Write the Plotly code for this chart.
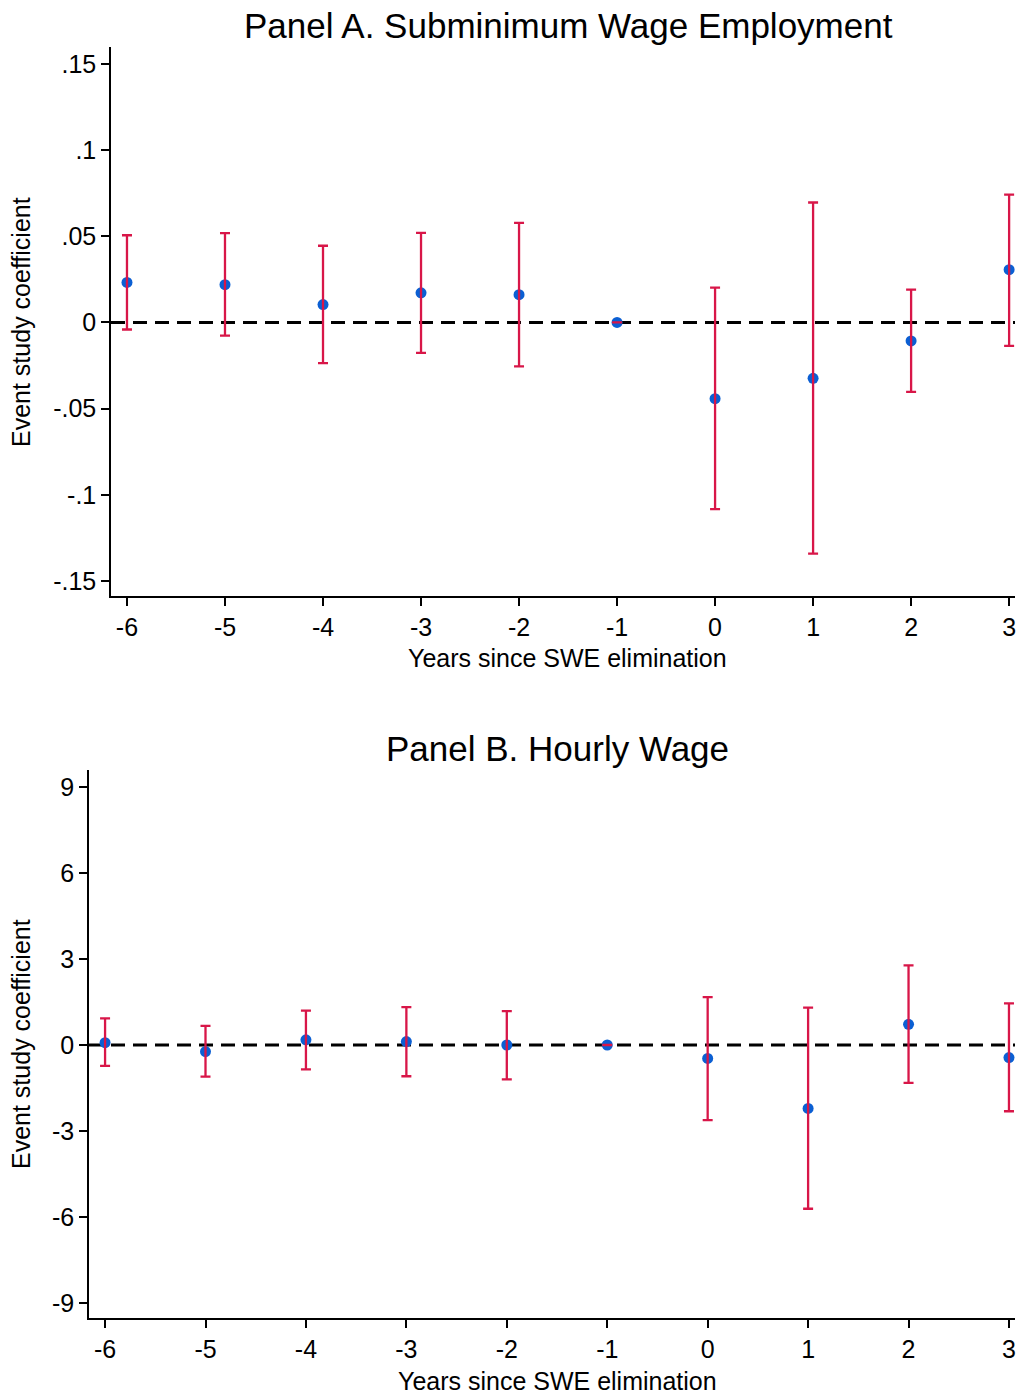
import plotly.graph_objects as go

W, H = 1017, 1394

years = [-6, -5, -4, -3, -2, -1, 0, 1, 2, 3]
x_ticktext = ["-6", "-5", "-4", "-3", "-2", "-1", "0", "1", "2", "3"]

# Panel A: Subminimum wage employment
a_coef = [0.0232, 0.0219, 0.0104, 0.0172, 0.0161, 0.0, -0.0442, -0.0324, -0.0107, 0.0306]
a_upper = [0.0506, 0.0518, 0.0445, 0.0520, 0.0578, 0.0, 0.0202, 0.0696, 0.0190, 0.0742]
a_lower = [-0.0041, -0.0077, -0.0236, -0.0176, -0.0255, 0.0, -0.1083, -0.1341, -0.0403, -0.0136]
a_tickvals = [-0.15, -0.1, -0.05, 0, 0.05, 0.1, 0.15]
a_ticktext = ["-.15", "-.1", "-.05", "0", ".05", ".1", ".15"]

# Panel B: Hourly wage
b_coef = [0.08, -0.23, 0.18, 0.12, 0.0, 0.0, -0.47, -2.21, 0.72, -0.44]
b_upper = [0.93, 0.67, 1.20, 1.32, 1.18, 0.0, 1.67, 1.30, 2.78, 1.45]
b_lower = [-0.73, -1.10, -0.85, -1.09, -1.20, 0.0, -2.62, -5.71, -1.32, -2.31]
b_tickvals = [-9, -6, -3, 0, 3, 6, 9]
b_ticktext = ["-9", "-6", "-3", "0", "3", "6", "9"]

FONT = "Liberation Sans, Arial, sans-serif"
RED = "#D81648"
BLUE = "#0B5FD3"

fig = go.Figure()


def add_panel(coef, up, lo, xa, ya):
    plus = [u - c for u, c in zip(up, coef)]
    minus = [c - l for c, l in zip(coef, lo)]
    fig.add_trace(go.Scatter(
        x=years, y=coef, mode="markers",
        marker=dict(color=BLUE, size=11),
        xaxis=xa, yaxis=ya, showlegend=False, hoverinfo="skip"))
    fig.add_trace(go.Scatter(
        x=years, y=coef, mode="markers",
        marker=dict(color="rgba(0,0,0,0)", size=1),
        error_y=dict(type="data", symmetric=False, array=plus, arrayminus=minus,
                     color=RED, thickness=2.3, width=5),
        xaxis=xa, yaxis=ya, showlegend=False, hoverinfo="skip"))


add_panel(a_coef, a_upper, a_lower, "x", "y")
add_panel(b_coef, b_upper, b_lower, "x2", "y2")


def px_x(p):
    return p / W


def px_y(p):
    return 1 - p / H


axis_common = dict(
    showgrid=False, zeroline=False, showline=True, linecolor="black", linewidth=1.5,
    ticks="outside", ticklen=8, tickwidth=1.5, tickcolor="black",
    tickfont=dict(family=FONT, size=25, color="black"), mirror=False,
)

fig.update_layout(
    width=W, height=H,
    margin=dict(l=0, r=0, t=0, b=0),
    paper_bgcolor="white", plot_bgcolor="white",
    xaxis=dict(domain=[px_x(111), px_x(1015)], range=[-6.163, 3.06],
               tickvals=years, ticktext=x_ticktext, anchor="y", **axis_common),
    yaxis=dict(domain=[px_y(596), px_y(47)], range=[-0.1587, 0.1598],
               tickvals=a_tickvals, ticktext=a_ticktext, anchor="x", **axis_common),
    xaxis2=dict(domain=[px_x(89), px_x(1015)], range=[-6.16, 3.06],
                tickvals=years, ticktext=x_ticktext, anchor="y2", **axis_common),
    yaxis2=dict(domain=[px_y(1318), px_y(770)], range=[-9.52, 9.59],
                tickvals=b_tickvals, ticktext=b_ticktext, anchor="x2", **axis_common),
    shapes=[
        dict(type="line", xref="x domain", yref="y", x0=0, x1=1, y0=0, y1=0,
             line=dict(color="black", width=3, dash="14px,8px"), layer="below"),
        dict(type="line", xref="x2 domain", yref="y2", x0=0, x1=1, y0=0, y1=0,
             line=dict(color="black", width=3, dash="14px,8px"), layer="below"),
    ],
    annotations=[
        dict(text="Panel A. Subminimum Wage Employment", xref="paper", yref="paper",
             x=px_x(568), y=px_y(25), showarrow=False, xanchor="center", yanchor="middle",
             font=dict(family=FONT, size=35, color="black")),
        dict(text="Panel B. Hourly Wage", xref="paper", yref="paper",
             x=px_x(557), y=px_y(748), showarrow=False, xanchor="center", yanchor="middle",
             font=dict(family=FONT, size=35, color="black")),
        dict(text="Years since SWE elimination", xref="paper", yref="paper",
             x=px_x(567), y=px_y(658), showarrow=False, xanchor="center", yanchor="middle",
             font=dict(family=FONT, size=25, color="black")),
        dict(text="Years since SWE elimination", xref="paper", yref="paper",
             x=px_x(557), y=px_y(1381), showarrow=False, xanchor="center", yanchor="middle",
             font=dict(family=FONT, size=25, color="black")),
        dict(text="Event study coefficient", xref="paper", yref="paper",
             x=px_x(21), y=px_y(322), showarrow=False, xanchor="center", yanchor="middle",
             textangle=-90, font=dict(family=FONT, size=25, color="black")),
        dict(text="Event study coefficient", xref="paper", yref="paper",
             x=px_x(21), y=px_y(1044), showarrow=False, xanchor="center", yanchor="middle",
             textangle=-90, font=dict(family=FONT, size=25, color="black")),
    ],
)

fig.write_html("out.html")
